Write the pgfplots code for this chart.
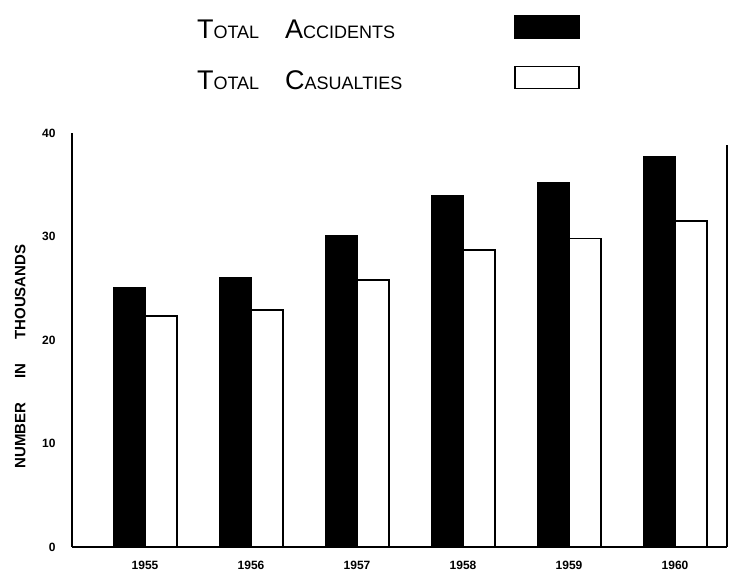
\documentclass[border=0pt]{standalone}
\usepackage{fontspec}
\setmainfont{Liberation Sans}
\usepackage{pgfplots}
\pgfplotsset{compat=1.18}
\newcommand{\bigc}[1]{{\fontsize{27}{27}\selectfont #1}}
\newcommand{\smc}[1]{{\fontsize{18}{18}\selectfont #1}}
\begin{document}
\begin{tikzpicture}
\useasboundingbox (-72pt,-36pt) rectangle (658pt,547pt);
\begin{axis}[
  at={(0pt,0pt)}, anchor=south west,
  scale only axis, width=655pt, height=414pt,
  xmin=-0.689, xmax=5.49, ymin=0, ymax=40,
  clip=false,
  ybar=0pt, bar width=32pt,
  axis x line*=bottom, axis y line*=left,
  axis line style={line width=2.5pt, -},
  major tick length=0pt,
  xtick={0,1,2,3,4,5},
  xticklabels={1955,1956,1957,1958,1959,1960},
  ytick={0,10,20,30,40},
  /pgf/number format/assume math mode=true,
  ticklabel style={font=\bfseries\fontsize{12}{12}\selectfont},
  xticklabel style={yshift=-11pt},
  yticklabel style={xshift=-13pt},
  ylabel={NUMBER\hspace{24pt}IN\hspace{24pt}THOUSANDS},
  ylabel style={at={(axis description cs:-0.079,0.46)}, anchor=center,
    font=\bfseries\fontsize{15}{15}\selectfont},
  legend cell align=left,
  legend plot pos=right,
  legend style={at={(axis description cs:0.183,1.29)}, anchor=north west,
    draw=none, fill=none, row sep=24pt, column sep=110pt},
]
\addplot[fill=black, draw=black, line width=1pt,
  legend image code/.code={\draw[fill=black,draw=black,line width=1.5pt] (0pt,-8pt) rectangle (64pt,14pt);}]
  coordinates {(0,25.1) (1,26.0) (2,30.1) (3,34.0) (4,35.2) (5,37.7)};
\addplot[fill=white, draw=black, line width=1.5pt,
  legend image code/.code={\draw[fill=white,draw=black,line width=1.5pt] (0pt,-8pt) rectangle (64pt,14pt);}]
  coordinates {(0,22.3) (1,22.9) (2,25.8) (3,28.7) (4,29.8) (5,31.5)};
\legend{\bigc{T}\smc{OTAL}\hspace{26pt}\bigc{A}\smc{CCIDENTS},
        \bigc{T}\smc{OTAL}\hspace{26pt}\bigc{C}\smc{ASUALTIES}}
\draw[line width=2pt] (rel axis cs:1,0) -- (rel axis cs:1,0.97);
\end{axis}
\end{tikzpicture}
\end{document}
